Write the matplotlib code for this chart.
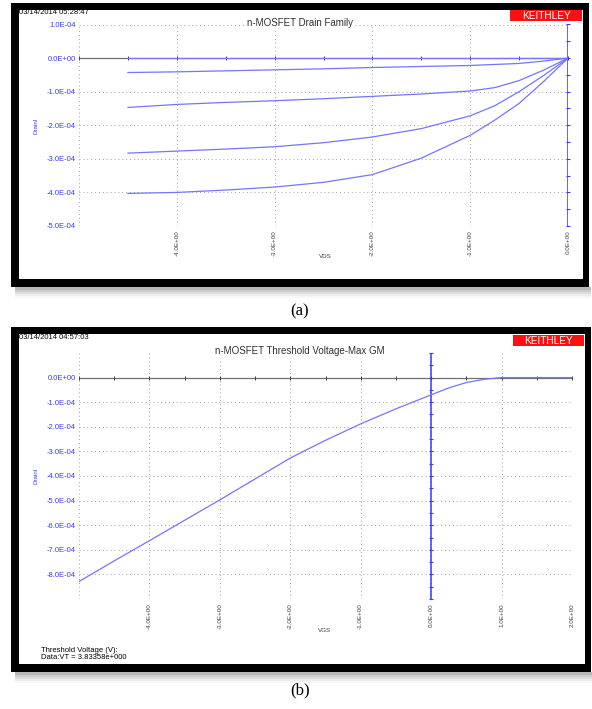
import numpy as np
import matplotlib
matplotlib.use("Agg")
import matplotlib.pyplot as plt
from matplotlib.patches import Rectangle

W, H = 592, 709

# ---- data (a): drain family, current in units of 1e-4 A
vds = [-4.5, -4.0, -3.5, -3.0, -2.5, -2.0, -1.5, -1.0, -0.75, -0.5, -0.25, 0.0]
id_vg0 = [0, 0, 0, 0, 0, 0, 0, 0, 0, 0, 0, 0]
id_vg1 = [-0.43, -0.41, -0.38, -0.35, -0.32, -0.28, -0.25, -0.22, -0.19, -0.16, -0.09, 0]
id_vg2 = [-1.47, -1.38, -1.32, -1.27, -1.21, -1.14, -1.07, -0.98, -0.88, -0.67, -0.36, 0]
id_vg3 = [-2.83, -2.77, -2.71, -2.64, -2.52, -2.35, -2.10, -1.72, -1.42, -1.00, -0.52, 0]
id_vg4 = [-4.03, -4.00, -3.93, -3.84, -3.70, -3.47, -2.98, -2.30, -1.85, -1.35, -0.70, 0]

# ---- data (b): threshold sweep
vgs = [-5.0, -4.5, -4.0, -3.5, -3.0, -2.5, -2.0, -1.5, -1.0, -0.5, 0.0, 0.25, 0.5, 0.75, 1.0, 1.5, 2.0]
id_b = [-8.29, -7.45, -6.63, -5.80, -4.97, -4.12, -3.27, -2.55, -1.88, -1.27, -0.70, -0.42, -0.20, -0.07, 0, 0, 0]

xticks_a = [-5, -4, -3, -2, -1, 0]
yticks_a = [1, 0, -1, -2, -3, -4, -5]
xticks_b = [-5, -4, -3, -2, -1, 0, 1, 2]
yticks_b = [0, -1, -2, -3, -4, -5, -6, -7, -8, -9]

BLUE = "#3a3aff"
CURVE = "#7474ff"
FONT = "Liberation Sans"

fig = plt.figure(figsize=(W / 100, H / 100), dpi=100)
fig.patch.set_facecolor("white")


def fx(x):
    return x / W


def fy(y):
    return 1 - y / H


def rect(x0, y0, x1, y1, **kw):
    fig.patches.append(Rectangle((fx(x0), fy(y1)), (x1 - x0) / W, (y1 - y0) / H,
                                 transform=fig.transFigure, zorder=-5, **kw))


def frame(x0, y0, x1, y1):
    # soft shadow under the frame
    for i, a in enumerate([0.10, 0.08, 0.06, 0.04, 0.03]):
        rect(x0 + 4, y1, x1 + 2, y1 + 3 + i * 2, facecolor="black", alpha=a, lw=0)
    rect(x0, y0, x1, y1, facecolor="black", lw=0)
    rect(x0 + 8, y0 + 7, x1 - 6, y1 - 8, facecolor="white", lw=0)


def panel(box, xlim, ylim, xticks, xlab_vals, yticks, ylab_vals, xname):
    x0, y0, x1, y1 = box
    ax = fig.add_axes([fx(x0), fy(y1), (x1 - x0) / W, (y1 - y0) / H])
    ax.set_zorder(5)
    ax.set_xlim(*xlim)
    ax.set_ylim(*ylim)
    for s in ax.spines.values():
        s.set_visible(False)
    ax.set_facecolor("none")
    ax.set_xticks(xticks)
    ax.set_xticklabels(["%.1E" % v if v in xlab_vals else "" for v in xticks],
                       rotation=90, fontsize=4.5, color="#404040", family=FONT)
    ax.set_yticks([v * 1e-4 for v in yticks])
    ax.set_yticklabels(["%.1E" % (v * 1e-4) if v in ylab_vals else "" for v in yticks],
                       fontsize=5.5, color=BLUE, family=FONT)
    ax.tick_params(axis="y", length=0, pad=2.5)
    ax.tick_params(axis="x", length=0, pad=3)
    ax.grid(True, ls=(0, (1, 3)), color="#a0a0a0", lw=0.7)
    # zero current axis with ticks
    ax.axhline(0, color="#707070", lw=0.9, zorder=2)
    xt = np.arange(xlim[0], xlim[1] + 0.01, 0.5)
    ax.plot(xt, np.zeros_like(xt), ls="none", marker="|", ms=3, color="#404040", mew=0.7,
            zorder=2, clip_on=False)
    # zero voltage axis with ticks
    ax.axvline(0, color=BLUE, lw=1.1, zorder=3)
    yt = np.arange(ylim[0], ylim[1] + 1e-6, 0.5e-4)
    ax.plot(np.zeros_like(yt), yt, ls="none", marker="_", ms=3.5, color=BLUE, mew=0.8,
            zorder=3, clip_on=False)
    fig.text(fx(x0 - 43), fy((y0 + y1) / 2), "DrainI", rotation=90, fontsize=4.5,
             color=BLUE, family=FONT, ha="center", va="center")
    fig.text(fx(325), fy(y1 + 31), xname, fontsize=4.5, color="#404040", family=FONT,
             ha="center", va="center")
    return ax


def header(ytop, stamp, title, title_y, kx0, kx1):
    fig.text(fx(19), fy(ytop + 3), stamp, fontsize=5.5, color="black", family=FONT,
             ha="left", va="center")
    fig.text(fx(300), fy(title_y), title, fontsize=7, color="#303030", family=FONT,
             ha="center", va="center", zorder=10,
             bbox=dict(facecolor="white", edgecolor="none", pad=1.5))
    rect(kx0, ytop, kx1, ytop + 11, facecolor="#ff1010", lw=0)
    fig.text(fx((kx0 + kx1) / 2), fy(ytop + 5.8), "KEITHLEY", fontsize=7.2, color="white",
             family=FONT, ha="center", va="center")


# ---- panel (a)
frame(11, 3, 589, 287)
ax = panel((79, 24.5, 568, 226), (-5, 0), (-5e-4, 1e-4), xticks_a, [-4, -3, -2, -1, 0],
           yticks_a, yticks_a, "VDS")
for curve in [id_vg0, id_vg1, id_vg2, id_vg3, id_vg4]:
    ax.plot(vds, np.array(curve) * 1e-4, color=CURVE, lw=0.9, zorder=4)
header(10, "03/14/2014 05:28:47", "n-MOSFET Drain Family", 22.5, 510, 582)
fig.text(fx(300), fy(311), "(a)", fontsize=12, family="Liberation Serif", ha="center", va="center")

# ---- panel (b)
frame(11, 327, 591, 672)
ax = panel((79, 353, 572, 599), (-5, 2), (-9e-4, 1e-4), xticks_b, [-4, -3, -2, -1, 0, 1, 2],
           yticks_b, yticks_b[:-1], "VGS")
ax.plot(vgs, np.array(id_b) * 1e-4, color=CURVE, lw=0.9, zorder=4)
header(335, "03/14/2014 04:57:03", "n-MOSFET Threshold Voltage-Max GM", 351, 513, 584)
fig.text(fx(41), fy(650), "Threshold Voltage (V):", fontsize=5.5, color="black", family=FONT,
         ha="left", va="center")
fig.text(fx(41), fy(657.5), "Data:VT = 3.83358e+000", fontsize=5.5, color="black", family=FONT,
         ha="left", va="center")
fig.text(fx(300), fy(690), "(b)", fontsize=12, family="Liberation Serif", ha="center", va="center")

fig.savefig("out.png", dpi=100)
